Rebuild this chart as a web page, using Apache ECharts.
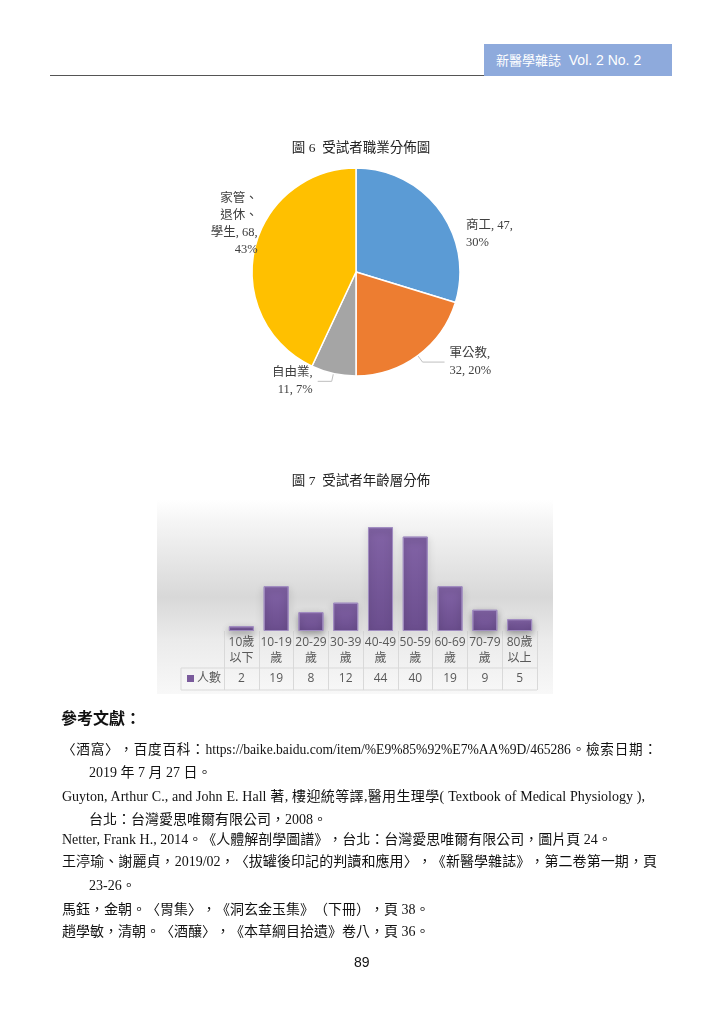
<!DOCTYPE html>
<html><head><meta charset="utf-8">
<script src="https://cdn.jsdelivr.net/npm/echarts@6/dist/echarts.min.js"></script>
<style>
html,body{margin:0;padding:0;background:#fff;}
#page{position:relative;width:725px;height:1024px;overflow:hidden;}
#chart{position:absolute;left:0;top:0;width:725px;height:1024px;}
.t{position:absolute;white-space:nowrap;font-family:"Liberation Serif","Noto Sans CJK TC",serif;font-size:14px;color:#111;line-height:16px;text-spacing-trim:space-all;}
.j{text-align:justify;text-align-last:justify;white-space:normal;}
#hdr{position:absolute;left:484px;top:44px;width:188px;height:32px;background:#8eaadc;color:#fff;font-family:"Liberation Sans","Noto Sans CJK TC",sans-serif;font-size:14px;line-height:32px;box-sizing:border-box;padding-left:12px;}
#hline{position:absolute;left:50px;top:75px;width:434px;height:1px;background:#555;}
</style></head>
<body><div id="page">
<div id="chart"></div>
<div id="hline"></div>
<div id="hdr"><span style="font-family:'Noto Sans CJK TC';font-size:13px">新醫學雜誌</span>&nbsp; Vol. 2 No. 2</div>
<div class="t" style="left:61px;top:709px;font-size:16px;font-weight:bold;font-family:'Noto Sans CJK TC'">參考文獻：</div>
<div class="t j" style="left:62px;top:742px;width:595px;font-size:13.6px">〈酒窩〉，百度百科：https://baike.baidu.com/item/%E9%85%92%E7%AA%9D/465286。檢索日期：</div>
<div class="t" style="left:89px;top:765px">2019 年 7 月 27 日。</div>
<div class="t j" style="left:62px;top:789px;width:583px">Guyton, Arthur C., and John E. Hall 著, 樓迎統等譯,醫用生理學( Textbook of Medical Physiology ),</div>
<div class="t" style="left:89px;top:812px">台北：台灣愛思唯爾有限公司，2008。</div>
<div class="t" style="left:62px;top:832px">Netter, Frank H., 2014。《人體解剖學圖譜》，台北：台灣愛思唯爾有限公司，圖片頁 24。</div>
<div class="t j" style="left:62px;top:854px;width:595px">王渟瑜、謝麗貞，2019/02，〈拔罐後印記的判讀和應用〉，《新醫學雜誌》，第二卷第一期，頁</div>
<div class="t" style="left:89px;top:878px">23-26。</div>
<div class="t" style="left:62px;top:902px">馬鈺，金朝。〈胃集〉，《洞玄金玉集》（下冊），頁 38。</div>
<div class="t" style="left:62px;top:924px">趙學敏，清朝。〈酒釀〉，《本草綱目拾遺》卷八，頁 36。</div>
<div class="t" style="left:354px;top:954px;font-family:'Liberation Sans';font-size:14px">89</div>
</div>
<script>
// ---- data ----
const pieTitle = '圖 6  受試者職業分佈圖';
const pieNames = ['商工', '軍公教', '自由業', '家管、退休、學生'];
const pieValues = [47, 32, 11, 68];
const barTitle = '圖 7  受試者年齡層分佈';
const ageCategories = ['10歲\n以下', '10-19\n歲', '20-29\n歲', '30-39\n歲', '40-49\n歲', '50-59\n歲', '60-69\n歲', '70-79\n歲', '80歲\n以上'];
const ageValues = [2, 19, 8, 12, 44, 40, 19, 9, 5];
const seriesName = '人數';

const serif = '"Liberation Serif","Noto Sans CJK TC",serif';
const sans = '"Open Sans","Noto Sans CJK TC",sans-serif';
const chart = echarts.init(document.getElementById('chart'), null, {renderer: 'canvas'});

function pieLabel(p) {
  const pct = p.percent + '%';
  switch (p.dataIndex) {
    case 0: return p.name + ', ' + p.value + ',\n' + pct;
    case 1: return p.name + ',\n' + p.value + ', ' + pct;
    case 2: return p.name + ',\n' + p.value + ', ' + pct;
    default: return '家管、\n退休、\n學生, ' + p.value + ',\n' + pct;
  }
}
// label nudges (Excel "best fit" placement)
const labelShift = [[0.5, 14.5], [0, 0], [0, 0], [15, -11.5]];
const pieColors = ['#5b9bd5', '#ed7d31', '#a5a5a5', '#ffc000'];
const pieLineShown = [false, true, true, false];
const pieLine2 = [14, 22, 14, 14];

chart.setOption({
  animation: false,
  title: [
    {text: pieTitle, left: 356, top: 137, textAlign: 'center',
     textStyle: {fontFamily: serif, fontSize: 13.5, fontWeight: 'normal', color: '#222'}},
    {text: barTitle, left: 356, top: 470, textAlign: 'center',
     textStyle: {fontFamily: serif, fontSize: 13.5, fontWeight: 'normal', color: '#222'}}
  ],
  grid: {left: 224, width: 313, top: 513, height: 118},
  xAxis: {type: 'category', data: ageCategories,
    axisLine: {show: false},
    axisTick: {show: true, length: 59, lineStyle: {color: '#d9d9d9'}},
    axisLabel: {interval: 0, margin: 4, color: '#595959', fontFamily: sans, fontSize: 12, lineHeight: 16}},
  yAxis: {type: 'value', min: 0, max: 50, show: false},
  series: [
    {type: 'pie', center: [356, 272], radius: 104, startAngle: 90, clockwise: true,
     percentPrecision: 0, z: 5,
     data: pieNames.map((n, i) => ({name: n, value: pieValues[i], itemStyle: {color: pieColors[i]},
       labelLine: {show: pieLineShown[i], length2: pieLine2[i]}})),
     itemStyle: {borderColor: '#fff', borderWidth: 1.5},
     label: {show: true, position: 'outside', formatter: pieLabel, fontFamily: serif, fontSize: 12.5,
       color: '#404040', lineHeight: 17, align: 'center'},
     labelLine: {length: 8, length2: 14, lineStyle: {color: '#bfbfbf', width: 1}},
     labelLayout: function (p) {
       const s = labelShift[p.dataIndex];
       return {dx: s[0], dy: s[1]};
     }},
    {type: 'bar', name: seriesName, data: ageValues, barCategoryGap: '28%', z: 3,
     itemStyle: {
       color: {type: 'linear', x: 0, y: 0, x2: 0, y2: 1,
         colorStops: [{offset: 0, color: '#8263a6'}, {offset: 1, color: '#6b4e8e'}]},
       borderColor: '#a08cc0', borderWidth: 1,
       shadowColor: 'rgba(0,0,0,0.35)', shadowBlur: 7, shadowOffsetY: 3}}
  ]
});

// background and data table built from the axis scale
function buildTable() {
  const base = chart.convertToPixel({gridIndex: 0}, [0, 0]);
  const x0 = chart.convertToPixel({gridIndex: 0}, [0, 0])[0];
  const x1 = chart.convertToPixel({gridIndex: 0}, [1, 0])[0];
  const step = x1 - x0;
  const left = x0 - step / 2, right = left + step * ageCategories.length;
  const yTop = base[1], yMid = yTop + 37, yBot = yTop + 59;
  const g = [];
  g.push({type: 'rect', z: -10, shape: {x: 157, y: 500, width: 396, height: 194},
    style: {fill: {type: 'linear', x: 0, y: 0, x2: 0, y2: 1, colorStops: [
      {offset: 0, color: '#ffffff'}, {offset: 0.1, color: '#f6f6f6'},
      {offset: 0.5, color: '#d8d8d8'}, {offset: 0.72, color: '#ebebeb'}, {offset: 1, color: '#f8f8f8'}]}}});
  g.push({type: 'line', shape: {x1: left - 43, y1: yMid, x2: right, y2: yMid}, style: {stroke: '#d9d9d9', lineWidth: 1}});
  g.push({type: 'line', shape: {x1: left - 43, y1: yBot, x2: right, y2: yBot}, style: {stroke: '#d9d9d9', lineWidth: 1}});
  g.push({type: 'line', shape: {x1: left - 43, y1: yMid, x2: left - 43, y2: yBot}, style: {stroke: '#d9d9d9', lineWidth: 1}});
  g.push({type: 'rect', shape: {x: left - 37, y: yMid + 7, width: 7, height: 7}, style: {fill: '#7a5b9c'}});
  g.push({type: 'text', x: left - 27, y: yMid + 11, style: {text: seriesName, fill: '#595959', font: '12px ' + sans, verticalAlign: 'middle'}});
  ageValues.forEach((v, i) => {
    const x = chart.convertToPixel({gridIndex: 0}, [i, 0])[0];
    g.push({type: 'text', x: x, y: yMid + 11, style: {text: String(v), fill: '#595959', font: '12px ' + sans, align: 'center', verticalAlign: 'middle'}});
  });
  chart.setOption({graphic: {elements: g}});
}
buildTable();
</script>
</body></html>
